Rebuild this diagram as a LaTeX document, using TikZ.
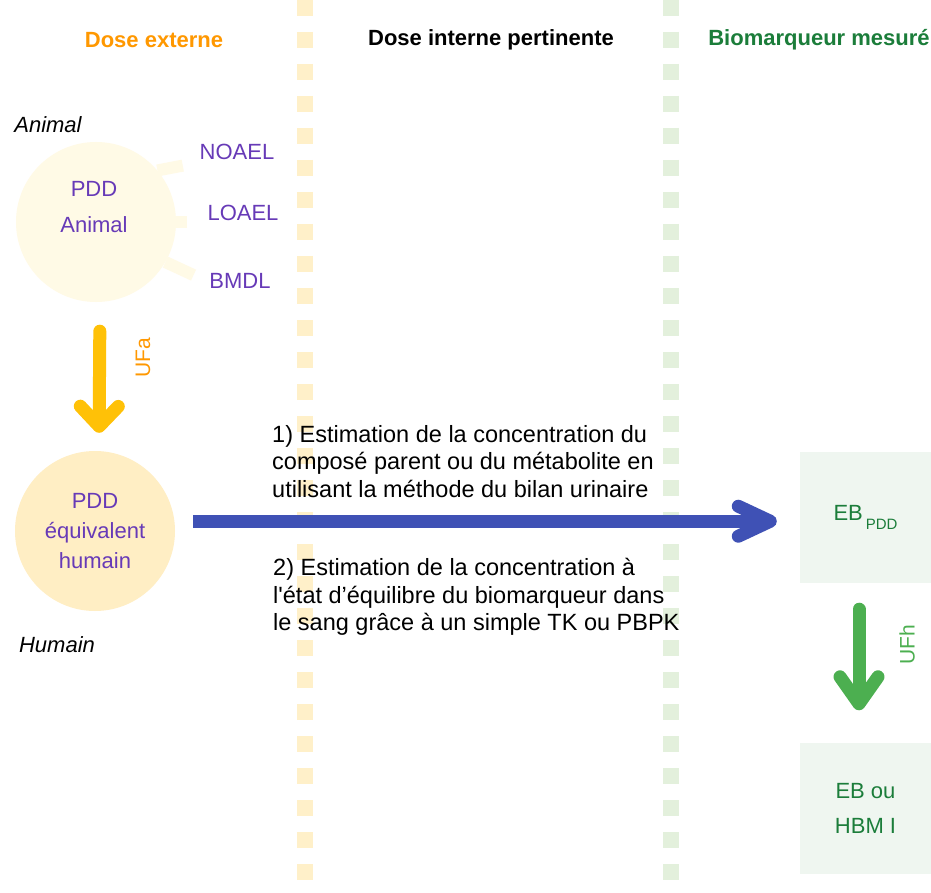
\documentclass[tikz,border=0pt]{standalone}
\usepackage{fontspec}
\setmainfont{Liberation Sans}
\usetikzlibrary{positioning,arrows.meta}
\definecolor{orangeh}{HTML}{FF9800}
\definecolor{greenh}{HTML}{1B7D3A}
\definecolor{violet}{HTML}{673AB7}
\definecolor{ambre}{HTML}{FFC107}
\definecolor{indigo}{HTML}{3F51B5}
\definecolor{vert}{HTML}{4CAF50}
\definecolor{jaunepale}{HTML}{FFFAE6}
\definecolor{jaune}{HTML}{FFEEC4}
\definecolor{vertpale}{HTML}{EFF6F0}
\definecolor{tiretj}{HTML}{FFF0C9}
\definecolor{tiretv}{HTML}{E3F0DC}

\begin{document}
\begin{tikzpicture}[x=1pt,y=-1pt,
		tete/.style={font=\fontsize{22}{26}\selectfont\bfseries},
		lab/.style={font=\fontsize{22}{26}\selectfont,text=violet,inner sep=3pt},
		esp/.style={font=\fontsize{22}{26}\selectfont\itshape},
		txt/.style={font=\fontsize{23.5}{27.5}\selectfont,align=left,inner sep=0pt},
		rond/.style={circle,minimum size=160pt,inner sep=0pt},
		boite/.style={fill=vertpale,minimum size=131pt,inner sep=0pt,align=center,
			font=\fontsize{22}{35}\selectfont,text=greenh},
		uf/.style={font=\fontsize{21}{21}\selectfont,rotate=90},
		tiret/.style={line width=16pt,dash pattern=on 16pt off 16pt},
		bras/.style={draw=jaunepale,line width=12pt},
		fleche/.style={line width=13pt,line cap=round,-{Straight Barb[round,length=20pt,width=38pt]}}]
	\useasboundingbox[fill=white] (0,0) rectangle (931,893);
	\draw[tiret,tiretj] (304.5,0) -- (304.5,893);
	\draw[tiret,tiretv] (671,0) -- (671,893);

	\node(h1) [tete,text=orangeh] at (154,40) {Dose externe};
	\node(h2) [tete] at (491,40) {Dose interne pertinente};
	\node(h3) [tete,text=greenh] at (819,40) {Biomarqueur mesuré};

	\begin{scope}
		\node(pa) [rond,fill=jaunepale] at (96,222) {};
		\node(pat) [lab,align=center,font=\fontsize{22}{36}\selectfont] at (94,207) {PDD\\Animal};
		\node(anim) [esp] at (48,125) {Animal};
		\node(noael) [lab] at (237,152) {NOAEL};
		\node(loael) [lab] at (243,213) {LOAEL};
		\node(bmdl) [lab] at (240,281) {BMDL};
		\path
			(pa.40) edge[bras,shorten >=14pt] (noael.south west)
			(pa.east) edge[bras,shorten >=17pt] (pa.east -| loael.west)
			(pa.-30) edge[bras,shorten >=14pt] (bmdl.west);
	\end{scope}

	\node(ph) [rond,fill=jaune,align=center,text=violet,font=\fontsize{22}{30}\selectfont] at (95,531) {PDD\\équivalent\\humain};
	\node(hum) [esp] at (57,645) {Humain};
	\node(ufa) [uf,text=orangeh] at (143,358) {UFa};

	\node(eb) [boite] at (865.5,517.5) {EB\hspace{3pt}\raisebox{-9pt}{\fontsize{15}{15}\selectfont PDD}};
	\node(hbm) [boite] at (865.5,808) {EB ou\\HBM I};
	\node(ufh) [uf,text=vert] at (907,645) {UFh};

	\node(t1) [txt,anchor=north west] at (272,425) {1) Estimation de la concentration du\\composé parent ou du métabolite en\\utilisant la méthode du bilan urinaire};
	\node(t2) [txt,anchor=north west] at (273,558) {2) Estimation de la concentration à\\l\textquotesingle état d’équilibre du biomarqueur dans\\le sang grâce à un simple TK ou PBPK};

	\path
		([xshift=4pt]pa.south) edge[fleche,draw=ambre,shorten <=29pt,shorten >=18pt] ([xshift=4pt]ph.north)
		(ph.7) edge[fleche,draw=indigo,line cap=butt,shorten <=18.6pt,shorten >=23pt,
			-{Straight Barb[round,length=32pt,width=30pt]}] (eb.west |- ph.7)
		([xshift=-6.5pt]eb.south) edge[fleche,draw=vert,shorten <=26pt,shorten >=32pt,
			-{Straight Barb[round,length=27pt,width=38pt]}] ([xshift=-6.5pt]hbm.north);
\end{tikzpicture}
\end{document}
